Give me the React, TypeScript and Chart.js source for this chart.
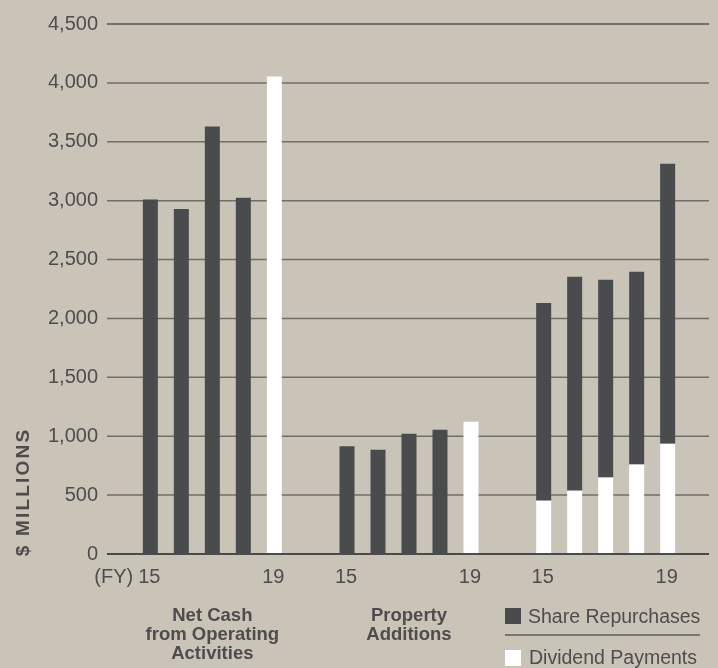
import { useEffect, useRef } from 'react';
import { Chart, registerables } from 'chart.js';

Chart.register(...registerables);

// ---- data ----
const years = ['15', '16', '17', '18', '19'];
const groupLabels: string[][] = [
  ['Net Cash', 'from Operating', 'Activities'],
  ['Property', 'Additions'],
  [],
];
const netCashFromOperations = [3010, 2930, 3630, 3025, 4055];
const propertyAdditions = [914, 886, 1021, 1055, 1123];
const dividendPayments = [453, 538, 649, 759, 937];
const shareRepurchases = [1678, 1816, 1680, 1638, 2377];
const yMax = 4500;
const yStep = 500;
const yAxisTitle = '$ MILLIONS';
const fyPrefix = '(FY)';
const legendItems = ['Share Repurchases', 'Dividend Payments'];

// ---- styles ----
const BG = '#cac4b8';
const DARK = '#4a4b4d';
const WHITE = '#ffffff';
const TEXT = '#4d4d4f';
const FONT = '"Liberation Sans", Arial, Helvetica, sans-serif';
const GRID_EXT_LEFT = 7;
const GRID_EXT_RIGHT = 5;

export default function App() {
  const ref = useRef<HTMLCanvasElement | null>(null);

  useEffect(() => {
    if (!ref.current) return;
    const last = years.length - 1;
    const datasets: any[] = [];
    years.forEach((yr, i) => {
      datasets.push({
        label: 'base' + yr,
        stack: yr,
        data: [netCashFromOperations[i], propertyAdditions[i], dividendPayments[i]],
        backgroundColor: [i === last ? WHITE : DARK, i === last ? WHITE : DARK, WHITE],
      });
      datasets.push({
        label: 'rep' + yr,
        stack: yr,
        data: [null, null, shareRepurchases[i]],
        backgroundColor: DARK,
      });
    });

    const decor = {
      id: 'decor',
      beforeDraw(chart: any) {
        const c = chart.ctx;
        c.save();
        c.fillStyle = BG;
        c.fillRect(0, 0, chart.width, chart.height);
        c.restore();
      },
      beforeDatasetsDraw(chart: any) {
        const c = chart.ctx;
        const area = chart.chartArea;
        const y = chart.scales.y;
        c.save();
        c.lineWidth = 1.5;
        for (let v = yStep; v <= yMax; v += yStep) {
          const py = y.getPixelForValue(v);
          c.strokeStyle = v === yMax ? '#555557' : '#6f6e69';
          c.beginPath();
          c.moveTo(area.left - GRID_EXT_LEFT, py);
          c.lineTo(area.right + GRID_EXT_RIGHT, py);
          c.stroke();
        }
        c.restore();
      },
      afterDatasetsDraw(chart: any) {
        const c = chart.ctx;
        const area = chart.chartArea;
        const y = chart.scales.y;
        const x = chart.scales.x;
        const y0 = y.getPixelForValue(0);
        c.save();
        // baseline
        c.strokeStyle = DARK;
        c.lineWidth = 2;
        c.beginPath();
        c.moveTo(area.left - GRID_EXT_LEFT, y0);
        c.lineTo(area.right + GRID_EXT_RIGHT, y0);
        c.stroke();

        // year labels under first and last bar of each group
        c.fillStyle = TEXT;
        c.font = `20px ${FONT}`;
        c.textAlign = 'center';
        c.textBaseline = 'alphabetic';
        const firstMeta = chart.getDatasetMeta(0);
        const lastMeta = chart.getDatasetMeta(last * 2);
        for (let g = 0; g < groupLabels.length; g++) {
          const xf = firstMeta.data[g].x;
          const xl = lastMeta.data[g].x;
          c.fillText(years[0], xf - 1, y0 + 29);
          c.fillText(years[last], xl - 1, y0 + 29);
          if (g === 0) {
            const w = c.measureText(years[0]).width;
            c.textAlign = 'right';
            c.fillText(fyPrefix, xf - 1 - w / 2 - 5, y0 + 29);
            c.textAlign = 'center';
          }
        }

        // group labels
        c.font = `bold 18.5px ${FONT}`;
        groupLabels.forEach((lines, g) => {
          const cx = x.getPixelForValue(g);
          lines.forEach((ln, k) => {
            c.fillText(ln, cx, y0 + 67 + k * 19);
          });
        });

        // legend
        const lx = area.right + GRID_EXT_RIGHT - 204;
        c.fillStyle = DARK;
        c.fillRect(lx, y0 + 54, 16, 16);
        c.fillStyle = WHITE;
        c.fillRect(lx, y0 + 96, 16, 16);
        c.strokeStyle = '#5c5c5c';
        c.lineWidth = 1.5;
        c.beginPath();
        c.moveTo(lx, y0 + 81);
        c.lineTo(lx + 195, y0 + 81);
        c.stroke();
        c.fillStyle = TEXT;
        c.font = `19.5px ${FONT}`;
        c.textAlign = 'left';
        c.fillText(legendItems[0], lx + 23, y0 + 68.5);
        c.fillText(legendItems[1], lx + 24, y0 + 110);

        // y-axis title
        c.save();
        c.translate(24, 492);
        c.rotate(-Math.PI / 2);
        c.font = `bold 19px ${FONT}`;
        try { (c as any).letterSpacing = '2.2px'; } catch (e) {}
        c.textAlign = 'center';
        c.textBaseline = 'middle';
        c.fillStyle = TEXT;
        c.fillText(yAxisTitle, 0, 0);
        c.restore();
        c.restore();
      },
    };

    const chart = new Chart(ref.current, {
      type: 'bar',
      data: { labels: groupLabels.map((l) => l.join(' ')), datasets },
      options: {
        animation: false,
        responsive: false,
        layout: { padding: { top: 24, right: 14, left: 0, bottom: 0 } },
        plugins: { legend: { display: false }, tooltip: { enabled: false } },
        datasets: {
          bar: { categoryPercentage: 0.788, barPercentage: 0.484, borderWidth: 0 },
        },
        scales: {
          x: {
            stacked: true,
            grid: { display: false, drawTicks: false },
            border: { display: false },
            ticks: { display: false },
            afterFit: (s: any) => { s.height = 114; s.paddingLeft = 0; s.paddingRight = 0; },
          },
          y: {
            stacked: true,
            min: 0,
            max: yMax,
            border: { display: false },
            grid: { display: false, drawTicks: false },
            ticks: {
              stepSize: yStep,
              padding: 16,
              color: TEXT,
              font: { family: FONT, size: 20 },
              callback: (v: any) => Number(v).toLocaleString('en-US'),
            },
            afterFit: (s: any) => { s.width = 114; s.paddingTop = 0; s.paddingBottom = 0; },
          },
        },
      },
      plugins: [decor],
    });
    return () => chart.destroy();
  }, []);

  return (
    <div style={{ position: 'fixed', left: 0, top: 0, width: 718, height: 668, background: BG }}>
      <canvas ref={ref} width={718} height={668} style={{ display: 'block' }} />
    </div>
  );
}
